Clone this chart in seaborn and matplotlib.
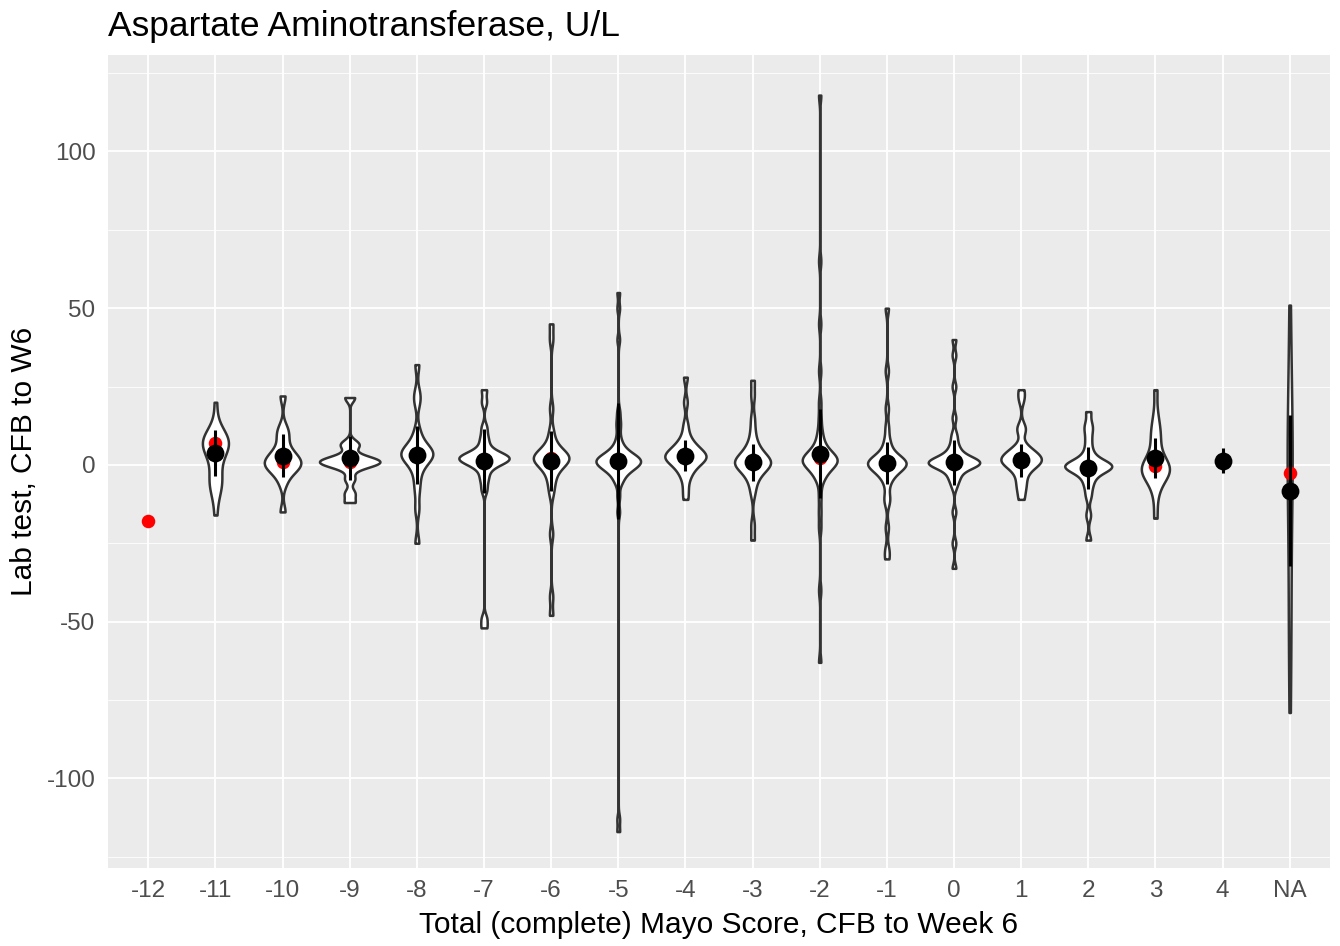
import numpy as np
import pandas as pd
import seaborn as sns
import matplotlib.pyplot as plt

# categories on the x axis
categories = ["-12", "-11", "-10", "-9", "-8", "-7", "-6", "-5", "-4",
              "-3", "-2", "-1", "0", "1", "2", "3", "4", "NA"]

# lab test changes per Mayo score group
obs_m11 = [-16, -9, -7, -6, -5, -4, -2, 2, 4, 5, 6, 6.5, 7, 7, 7.5, 8, 8, 8.5,
           9, 11, 20]
obs_m10 = [-15, -6, -3, -2, -1, 0, 0, 1, 1, 2, 3, 4, 5, 8, 10, 12, 22]
obs_m9 = [-12, -9, -4.5, -1, 0, 0.5, 1, 1, 1.5, 2, 3, 6, 7, 21.5]
obs_m8 = [-25, -14, -8, -4, -1, 1, 2, 2.5, 3, 3.5, 4, 4.5, 5, 6, 8, 11, 20,
          23, 32]
obs_m7 = [-52, -49, -8, -5, -3, -1, 0, 0.5, 1, 1.5, 2, 2, 2, 2.5, 2.5, 3, 3.5,
          4, 5, 7, 9, 12, 20, 24]
obs_m6 = [-48, -42, -22, -9, -6, -4, -2, -1, 0, 0.5, 1, 1.5, 2, 2, 2.5, 3, 3,
          3.5, 4, 5, 6, 8, 11, 18, 40, 45]
obs_m5 = [-117, -113, -15, -10, -6, -5, -4, -3, -2.5, -2, -1.5, -1, -1, -0.5,
          -0.5, 0, 0, 0.5, 0.5, 1, 1, 1, 1.5, 1.5, 2, 2, 2, 2.5, 2.5,
          3, 3, 3.5, 4, 4.5, 5, 6, 7, 9, 12, 14, 17, 40, 50, 55]
obs_m4 = [-11, -8, -5, -3, -2, -1, 0, 0.5, 1, 1.5, 2, 2, 2.5, 3, 3, 3.5, 4, 4,
          5, 5.5, 6, 7, 8, 10, 13, 20, 28]
obs_m3 = [-24, -19, -9, -6, -4, -3, -2, -1, -0.5, 0, 0, 0.5, 1, 1, 1.5, 2,
          2.5, 3, 4, 5, 6, 8, 11, 15, 22, 27]
obs_m2 = [-63, -40, -20, -15, -10, -5, -4, -3, -2, -1, -0.5, 0, 0, 0.5, 1, 1,
          1, 1.5, 2, 2, 2, 2.5, 3, 3, 3.5, 4, 5, 6, 7, 9, 11, 15, 20, 30, 45,
          65, 118]
obs_m1 = [-30, -27, -20, -12, -10, -6, -4, -3, -2, -1.5, -1, -0.5, 0, 0, 0.5,
          0.5, 1, 1, 1.5, 2, 2.5, 3, 4, 6, 8, 12, 18, 30, 50]
obs_0 = [-33, -25, -15, -7, -5, -4, -3, -2, -1, -0.5, -0.5, 0, 0, 0, 0.5, 0.5,
         1, 1, 1, 1.5, 1.5, 2, 2, 2.5, 3, 4, 5, 6, 8, 10, 15, 25, 35, 40]
obs_p1 = [-11, -8, -6, -4, -2, -1, 0, 0.5, 1, 1, 1.5, 2, 2.5, 3, 3.5, 4, 5, 6,
          11, 12, 21, 24]
obs_p2 = [-24, -16, -10, -7, -5, -3.5, -2, -1.5, -1, -1, -0.5, -0.5, 0, 0,
          0.5, 0.5, 1.5, 3, 5, 8, 11, 13, 17]
obs_p3 = [-17, -10, -6, -4, -3, -2.5, -2, -1.5, -1, -0.5, 0, 0.5, 2, 5, 8, 10,
          12, 16, 24]
obs_na = [-79, -62, -50, -40, -30, -15, -5, -3, -2, 5, 10, 14, 25, 35, 51]

# summary points (median in red, mean +/- sd in black)
median_vals = [-17.9, 7.0, 1.0, 1.0, 3.0, 2.0, 2.2, 1.5, 2.9, 1.0, 2.2, 0.6,
               1.0, 1.5, -1.0, -0.3, 1.4, -2.7]
mean_vals = [np.nan, 3.7, 2.9, 2.2, 3.2, 1.3, 1.3, 1.3, 2.9, 0.9, 3.5, 0.6,
             0.9, 1.5, -1.0, 2.2, 1.4, -8.2]
sd_vals = [np.nan, 7.3, 6.9, 7.0, 9.2, 10.2, 9.5, 18.5, 5.0, 5.9, 14.2, 6.6,
           7.2, 5.3, 6.7, 6.5, 4.0, 24.0]

groups = {"-11": obs_m11, "-10": obs_m10, "-9": obs_m9, "-8": obs_m8,
          "-7": obs_m7, "-6": obs_m6, "-5": obs_m5, "-4": obs_m4,
          "-3": obs_m3, "-2": obs_m2, "-1": obs_m1, "0": obs_0,
          "1": obs_p1, "2": obs_p2, "3": obs_p3, "NA": obs_na}
df = pd.DataFrame([(k, v) for k, vals in groups.items() for v in vals],
                  columns=["score", "value"])


# bandwidth like R's bw.nrd0
def nrd0(kde):
    x = kde.dataset[0]
    sd = x.std(ddof=1)
    q75, q25 = np.percentile(x, [75, 25])
    h = 0.9 * min(sd, (q75 - q25) / 1.34) * len(x) ** -0.2
    return h / sd


sns.set_theme(style="darkgrid", rc={
    "axes.facecolor": "#EBEBEB",
    "grid.color": "white",
    "axes.edgecolor": "#EBEBEB",
})
plt.rcParams["font.family"] = ["Liberation Sans", "DejaVu Sans"]

fig = plt.figure(figsize=(13.4, 9.46), dpi=100)
ax = fig.add_axes([0.0806, 0.0825, 0.9119, 0.8594])

sns.violinplot(data=df, x="score", y="value", order=categories, inner=None,
               cut=0, density_norm="area", width=0.9, color="white",
               saturation=1, linecolor="#333333", linewidth=1.8,
               gridsize=512, bw_method=nrd0, ax=ax)

pos = np.arange(len(categories))
ax.scatter(pos, median_vals, s=95, color="red", linewidths=0, zorder=3)
ax.errorbar(pos, mean_vals, yerr=sd_vals, fmt="none", ecolor="black",
            elinewidth=2.2, capsize=0, zorder=4)
ax.scatter(pos, mean_vals, s=165, color="black", linewidths=0, zorder=5)

ax.set_xlim(-0.6, len(categories) - 0.4)
ax.set_ylim(-128.6, 130.8)
ax.set_yticks([-100, -50, 0, 50, 100])
ax.set_yticklabels(["-100", "-50", "0", "50", "100"])
ax.set_yticks([-125, -75, -25, 25, 75, 125], minor=True)
ax.grid(which="major", color="white", linewidth=1.3)
ax.grid(which="minor", axis="y", color="white", linewidth=0.6)
ax.grid(which="minor", axis="x", visible=False)
ax.set_axisbelow(True)
for s in ax.spines.values():
    s.set_visible(False)

ax.tick_params(axis="both", which="major", length=4, width=1, color="#333333",
               labelsize=17.5, labelcolor="#4D4D4D", pad=5)
ax.tick_params(axis="y", which="minor", length=0)

ax.set_xlabel("Total (complete) Mayo Score, CFB to Week 6", fontsize=21.5,
              color="black", labelpad=6)
ax.set_ylabel("Lab test, CFB to W6", fontsize=21.5, color="black", labelpad=6)
ax.set_title("Aspartate Aminotransferase, U/L", loc="left", fontsize=25.5,
             color="black", pad=14)

fig.savefig("out.png", dpi=100)
